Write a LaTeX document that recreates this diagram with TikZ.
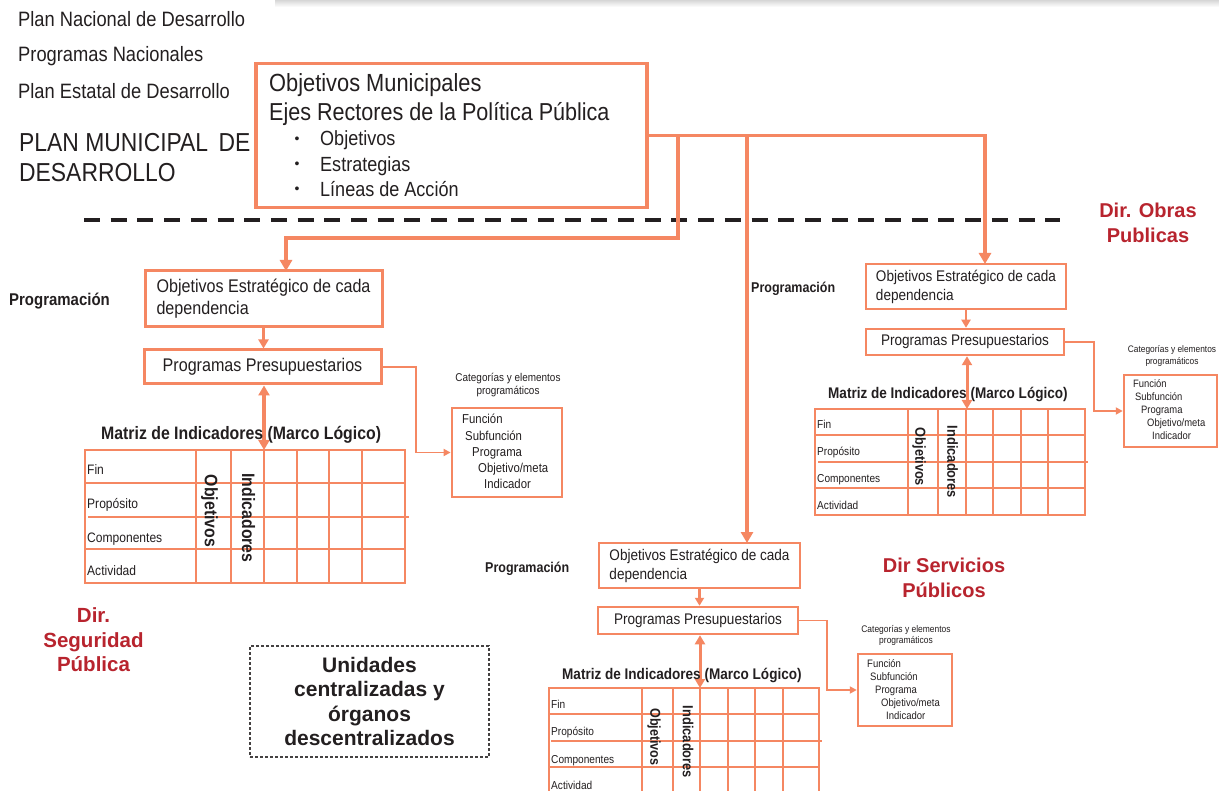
\documentclass[tikz,border=0pt]{standalone}
\usepackage{fontspec}
\setmainfont{Liberation Sans}
\newfontfamily\nar[FakeStretch=0.88]{Liberation Sans}
\usetikzlibrary{arrows.meta,calc}
\definecolor{org}{RGB}{245,135,98}
\definecolor{ink}{RGB}{35,31,32}
\definecolor{dred}{RGB}{184,36,46}
\newcommand\myfs[2]{\fontsize{#1}{#2}\selectfont}
\begin{document}
\begin{tikzpicture}[x=1pt,y=-1pt,
  txt/.style={inner sep=0pt, anchor=base west, text=ink},
  ctxt/.style={inner sep=0pt, text=ink},
  obox/.style={draw=org, line width=3pt, inner sep=0pt, text=ink},
  obox2/.style={draw=org, line width=2.5pt, inner sep=0pt, text=ink},
  marr/.style={draw=org, line width=3.5pt, -{Triangle[width=12pt,length=11pt]}},
  sarr/.style={draw=org, line width=3pt, -{Triangle[width=10pt,length=9pt]}},
  sarrb/.style={draw=org, line width=2.5pt, -{Triangle[width=9pt,length=8pt]}},
  darr/.style={draw=org, line width=3.5pt, {Triangle[width=11pt,length=10pt]}-{Triangle[width=11pt,length=10pt]}},
  darrb/.style={draw=org, line width=3pt, {Triangle[width=10pt,length=9pt]}-{Triangle[width=10pt,length=9pt]}},
  tarr/.style={draw=org, line width=1.8pt, -{Triangle[width=7pt,length=7pt]}},
  gridl/.style={draw=org, line width=2.8pt},
  gridr/.style={draw=org, line width=2.3pt},
  redlab/.style={inner sep=0pt, text=dred, align=center, font=\bfseries\myfs{20}{25}},
  vlab/.style={inner sep=0pt, text=ink, rotate=-90},
]
\useasboundingbox (0,0) rectangle (1219,791);
\fill[white] (0,0) rectangle (1219,791);
\clip (0,0) rectangle (1219,791);
\shade[top color=black!16, bottom color=white] (275,0) rectangle (1219,7);

% ---------- top-left texts
\node[txt, font=\nar\myfs{20.8}{20}] (pnd) at (18,27) {Plan Nacional de Desarrollo};
\node[txt, font=\nar\myfs{20.8}{20}] (pn) at (18,62) {Programas Nacionales};
\node[txt, font=\nar\myfs{20.8}{20}] (ped) at (18,99) {Plan Estatal de Desarrollo};
\node[txt, font=\nar\myfs{26}{26}] (pmd1) at (19,152) {PLAN MUNICIPAL\hspace{4pt} DE};
\node[txt, font=\nar\myfs{26}{26}] (pmd2) at (19,182) {DESARROLLO};

% ---------- main box
\node[obox, line width=3.5pt, minimum width=391, minimum height=144] (main) at (451.5,135.5) {};
\node[txt, font=\nar\myfs{24.8}{24.5}] (m1) at (269,92) {Objetivos Municipales};
\node[txt, font=\nar\myfs{24.5}{24.5}] (m2) at (269,121) {Ejes Rectores de la Política Pública};
\node[ctxt, font=\myfs{14}{14}] (b1) at (297,140) {\textbullet};
\node[ctxt, font=\myfs{14}{14}] (b2) at (297,165.5) {\textbullet};
\node[ctxt, font=\myfs{14}{14}] (b3) at (297,190.5) {\textbullet};
\node[txt, font=\nar\myfs{20.5}{20.5}] (i1) at (320,146) {Objetivos};
\node[txt, font=\nar\myfs{20.5}{20.5}] (i2) at (320,172) {Estrategias};
\node[txt, font=\nar\myfs{20.5}{20.5}] (i3) at (320,197) {Líneas de Acción};

% ---------- dashed separator
\draw[ink, line width=4pt, dash pattern=on 16pt off 10.7pt] (84,220) -- (1060,220);

% ---------- red labels and dashed box
\node[redlab] (dop) at (1148,223) {Dir. Obras\\Publicas};
\node[redlab, font=\bfseries\myfs{20.5}{24.5}] (dsg) at (93.5,640) {Dir.\\Seguridad\\Pública};
\node[redlab, font=\bfseries\myfs{20}{25.5}] (dsp) at (944,578) {Dir Servicios\\Públicos};
\node[draw=ink!85, line width=1.2pt, dash pattern=on 3pt off 2pt, minimum width=239, minimum height=111,
      inner sep=0pt, align=center, text=ink, font=\bfseries\myfs{21}{24.3}] (uc) at (369.5,701.5)
      {Unidades\\centralizadas y\\órganos\\descentralizados};

% ---------- left cluster (Seguridad)
\node[txt, font=\nar\bfseries\myfs{17}{17}] (prgl) at (9,306) {Programación};
\node[obox, minimum width=237, minimum height=56, align=left, font=\nar\myfs{18.3}{22}] (lo) at (263.5,299) {Objetivos Estratégico de cada\\dependencia};
\node[obox, minimum width=237, minimum height=34, font=\nar\myfs{18.3}{22}] (lp) at (262.5,367) {Programas Presupuestarios};
\draw[sarr] (lo.south) -- (lo.south |- lp.north);
\coordinate (lmt) at (264,450);
\draw[darr] (lp.south -| lmt) -- (lmt);
\node[txt, font=\nar\bfseries\myfs{18}{18}] (lmtit) at (101,440) {Matriz de Indicadores (Marco Lógico)};
\draw[gridl] (85,450) rectangle (405,583);
\foreach \y in {483,549} \draw[gridl] (85,\y) -- (405,\y);
\draw[gridl] (88,517) -- (409,517);
\foreach \x in {196,231,264,297,329,362} \draw[gridl] (\x,450) -- (\x,583);
\node[txt, font=\nar\myfs{13.7}{14}] (lr1) at (87,475) {Fin};
\node[txt, font=\nar\myfs{13.7}{14}] (lr2) at (87,508) {Propósito};
\node[txt, font=\nar\myfs{13.7}{14}] (lr3) at (87,543) {Componentes};
\node[txt, font=\nar\myfs{13.7}{14}] (lr4) at (87,575) {Actividad};
\node[vlab, font=\nar\bfseries\myfs{18}{18}] (lvo) at (209.5,511) {Objetivos};
\node[vlab, font=\nar\bfseries\myfs{18}{18}] (lvi) at (248.5,518) {Indicadores};
\node[obox, line width=2.8pt, minimum width=110, minimum height=89] (lcb) at (507,452.5) {};
\draw[tarr] (lp.east) -| ([xshift=-35pt]lcb.west) -- (lcb.west);
\node[ctxt, align=center, font=\nar\myfs{11.3}{13}] (lch) at (508,385.5) {Categorías y elementos\\programáticos};
\node[txt, font=\nar\myfs{12.9}{13}] (lc1) at (462,424) {Función};
\node[txt, font=\nar\myfs{12.9}{13}] (lc2) at (465,440.5) {Subfunción};
\node[txt, font=\nar\myfs{12.9}{13}] (lc3) at (472,456.5) {Programa};
\node[txt, font=\nar\myfs{12.9}{13}] (lc4) at (478,473) {Objetivo/meta};
\node[txt, font=\nar\myfs{12.9}{13}] (lc5) at (484,489) {Indicador};

% ---------- right cluster (Obras)
\node[txt, font=\nar\bfseries\myfs{14.2}{14}] (prgr) at (751,293) {Programación};
\node[obox2, minimum width=200, minimum height=45, align=left, font=\nar\myfs{15.4}{19}] (ro) at (966,286.5) {Objetivos Estratégico de cada\\dependencia};
\node[obox2, minimum width=198, minimum height=26, font=\nar\myfs{15.4}{19}] (rp) at (965,342) {Programas Presupuestarios};
\draw[sarrb] (ro.south) -- (ro.south |- rp.north);
\coordinate (rmt) at (967,409);
\draw[darrb] (rp.south -| rmt) -- (rmt);
\node[txt, font=\nar\bfseries\myfs{15.4}{15}] (rmtit) at (828,399) {Matriz de Indicadores (Marco Lógico)};
\draw[gridr] (815,409) rectangle (1085,515);
\foreach \y in {435,488} \draw[gridr] (815,\y) -- (1085,\y);
\draw[gridr] (818,462) -- (1088,462);
\foreach \x in {908,938,966,993,1021,1048} \draw[gridr] (\x,409) -- (\x,515);
\node[txt, font=\nar\myfs{11.5}{12}] (rr1) at (817,429) {Fin};
\node[txt, font=\nar\myfs{11.5}{12}] (rr2) at (817,456) {Propósito};
\node[txt, font=\nar\myfs{11.5}{12}] (rr3) at (817,483) {Componentes};
\node[txt, font=\nar\myfs{11.5}{12}] (rr4) at (817,510) {Actividad};
\node[vlab, font=\nar\bfseries\myfs{14.5}{15}] (rvo) at (919,457) {Objetivos};
\node[vlab, font=\nar\bfseries\myfs{14.6}{15}] (rvi) at (952.5,462) {Indicadores};
\node[obox2, minimum width=93, minimum height=72] (rcb) at (1170.5,411) {};
\draw[tarr] (rp.east) -| ([xshift=-29pt]rcb.west) -- (rcb.west);
\node[ctxt, align=center, font=\nar\myfs{9.5}{12}] (rch) at (1172,355.5) {Categorías y elementos\\programáticos};
\node[txt, font=\nar\myfs{10.7}{11}] (rc1) at (1133,388) {Función};
\node[txt, font=\nar\myfs{10.7}{11}] (rc2) at (1135,401) {Subfunción};
\node[txt, font=\nar\myfs{10.7}{11}] (rc3) at (1141,414) {Programa};
\node[txt, font=\nar\myfs{10.7}{11}] (rc4) at (1147,427) {Objetivo/meta};
\node[txt, font=\nar\myfs{10.7}{11}] (rc5) at (1152,440) {Indicador};

% ---------- bottom cluster (Servicios)
\node[txt, font=\nar\bfseries\myfs{14.2}{14}] (prgb) at (485,572) {Programación};
\node[obox2, minimum width=201, minimum height=45, align=left, font=\nar\myfs{15.4}{19}] (bo) at (699.5,565.5) {Objetivos Estratégico de cada\\dependencia};
\node[obox2, minimum width=200, minimum height=27, font=\nar\myfs{15.4}{19}] (bp) at (698,620.5) {Programas Presupuestarios};
\draw[sarrb] (bo.south) -- (bo.south |- bp.north);
\coordinate (bmt) at (700,688);
\draw[darrb] (bp.south -| bmt) -- (bmt);
\node[txt, font=\nar\bfseries\myfs{15.4}{15}] (bmtit) at (562,679) {Matriz de Indicadores (Marco Lógico)};
\draw[gridr] (549,688) rectangle (819,796);
\foreach \y in {714,767} \draw[gridr] (549,\y) -- (819,\y);
\draw[gridr] (551,741) -- (822,741);
\foreach \x in {642,673,700,728,755,783} \draw[gridr] (\x,688) -- (\x,796);
\node[txt, font=\nar\myfs{11.5}{12}] (br1) at (551,708) {Fin};
\node[txt, font=\nar\myfs{11.5}{12}] (br2) at (551,735) {Propósito};
\node[txt, font=\nar\myfs{11.5}{12}] (br3) at (551,763) {Componentes};
\node[txt, font=\nar\myfs{11.5}{12}] (br4) at (551,789) {Actividad};
\node[vlab, font=\nar\bfseries\myfs{14.3}{15}] (bvo) at (654,737) {Objetivos};
\node[vlab, font=\nar\bfseries\myfs{14.6}{15}] (bvi) at (688,742) {Indicadores};
\node[obox2, minimum width=94, minimum height=72] (bcb) at (905,690) {};
\draw[tarr] (bp.east) -| ([xshift=-30pt]bcb.west) -- (bcb.west);
\node[ctxt, align=center, font=\nar\myfs{9.6}{11.5}] (bch) at (906,635.5) {Categorías y elementos\\programáticos};
\node[txt, font=\nar\myfs{10.8}{11}] (bc1) at (867,667) {Función};
\node[txt, font=\nar\myfs{10.8}{11}] (bc2) at (870,680) {Subfunción};
\node[txt, font=\nar\myfs{10.8}{11}] (bc3) at (875,693) {Programa};
\node[txt, font=\nar\myfs{10.8}{11}] (bc4) at (881,706) {Objetivo/meta};
\node[txt, font=\nar\myfs{10.8}{11}] (bc5) at (886,719) {Indicador};

% ---------- main connectors
\coordinate (jl) at (678,135.5);
\coordinate (kl) at (678,238);
\coordinate (lin) at (286,271);
\coordinate (jb) at (747,135.5);
\coordinate (bin) at (747,543);
\coordinate (rin) at (985,264);
\draw[marr] (main.east) -| (rin);
\draw[marr] (jl) -- (kl) -| (lin);
\draw[marr] (jb) -- (bin);
\end{tikzpicture}
\end{document}
